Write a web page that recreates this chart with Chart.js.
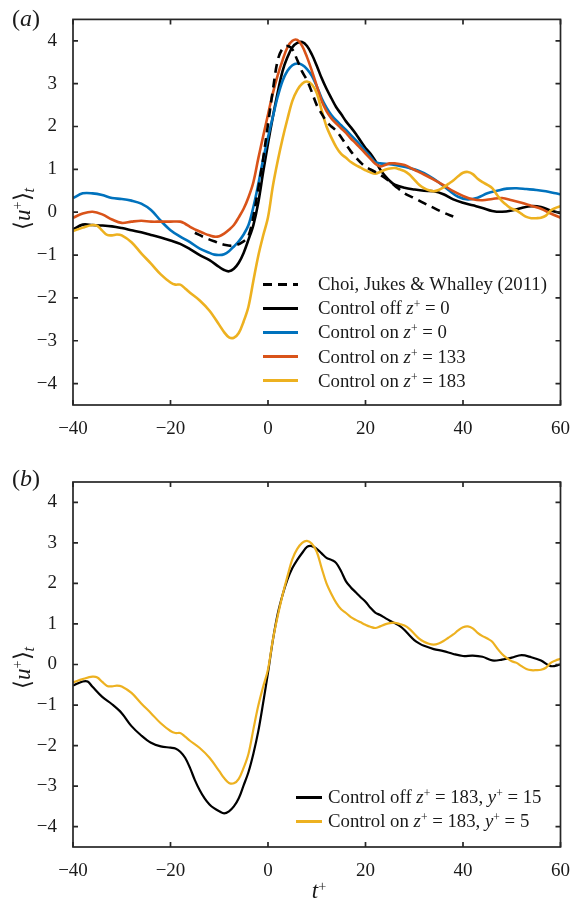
<!DOCTYPE html>
<html>
<head>
<meta charset="utf-8">
<script src="https://cdn.jsdelivr.net/npm/chart.js@4.4.1/dist/chart.umd.min.js"></script>
<style>
  body { margin: 0; background: #fff; width: 575px; height: 905px; position: relative; overflow: hidden;
         font-family: "Liberation Serif", "Times New Roman", serif; color: #1a1a1a; }
  canvas { position: absolute; left: 0; }
  .lab { position: absolute; white-space: nowrap; line-height: 1; }
  .panel { font-size: 24px; }
  .ytitle { font-size: 23px; transform: translate(-50%, -50%) rotate(-90deg); }
  .ytitle sup, .xtitle sup, .leg sup { font-size: 0.62em; vertical-align: 0.5em; line-height: 0; }
  .ytitle sub { font-size: 0.7em; vertical-align: -0.3em; line-height: 0; }
  .xtitle { font-size: 23px; transform: translateX(-50%); }
  .leg { position: absolute; font-size: 18.8px; }
  .row { display: flex; align-items: center; height: 24.2px; white-space: nowrap; }
  .swatch { height: 3px; }
</style>
</head>
<body>
<canvas id="ca" width="575" height="440" style="top:0"></canvas>
<canvas id="cb" width="575" height="465" style="top:440px"></canvas>

<div class="lab panel" style="left:12px; top:6px">(<i>a</i>)</div>
<div class="lab panel" style="left:12px; top:466px">(<i>b</i>)</div>
<div class="lab ytitle" style="left:22px; top:209px">⟨<i>u</i><sup>+</sup>⟩<sub><i>t</i></sub></div>
<div class="lab ytitle" style="left:22px; top:668px">⟨<i>u</i><sup>+</sup>⟩<sub><i>t</i></sub></div>
<div class="lab xtitle" style="left:319px; top:879px"><i>t</i><sup>+</sup></div>
<div id="legA" class="leg" style="left:263px; top:272px"></div>
<div id="legB" class="leg" style="left:296px; top:785px"></div>

<script>
// axis ticks
const tickX = [-40, -20, 0, 20, 40, 60];
const tickY = [-4, -3, -2, -1, 0, 1, 2, 3, 4];

// Choi, Jukes & Whalley (2011)
const choiT = [-15, -13, -11, -9, -7, -5, -4, -3, -2, -1, 0, 1, 2, 3, 4, 5, 6, 7, 8, 9, 10, 11, 12, 13, 14, 15, 16, 17, 18, 19, 20,
  22, 24, 26, 28, 30, 32, 34, 36, 38];
const choiU = [-0.48, -0.59, -0.68, -0.76, -0.78, -0.68, -0.55, -0.10, 0.55, 1.25, 2.05, 2.85, 3.55, 3.82, 3.88, 3.80, 3.55, 3.28,
  3.08, 2.80, 2.50, 2.30, 2.12, 2.00, 1.90, 1.75, 1.58, 1.42, 1.28, 1.16, 1.06, 0.94, 0.80, 0.62, 0.44, 0.33, 0.21, 0.10, -0.01, -0.10];

// control off z+ = 0
const offT = [-40, -38, -36, -34, -32, -30, -28, -26, -24, -22, -20, -18, -16, -14, -12, -10,
  -9, -8, -7, -6, -5, -4, -3, -2, -1, 0, 1, 2, 3, 4, 5, 6, 7, 8, 9, 10, 11, 12, 13, 14, 15, 16, 17, 18, 19, 20, 21, 22, 23, 24, 25, 26,
  28, 30, 32, 34, 36, 38, 40, 42, 44, 46, 48, 50, 52, 54, 56, 58, 60];
const offU = [-0.40, -0.29, -0.30, -0.31, -0.33, -0.37, -0.42, -0.47, -0.53, -0.59, -0.66, -0.74, -0.86, -1.00, -1.12, -1.28,
  -1.35, -1.38, -1.32, -1.18, -0.95, -0.64, -0.30, 0.22, 0.93, 1.60, 2.23, 2.80, 3.30, 3.62, 3.85, 3.95, 3.97, 3.88, 3.68, 3.42,
  3.13, 2.88, 2.66, 2.45, 2.29, 2.12, 1.98, 1.83, 1.66, 1.50, 1.37, 1.20, 1.00, 0.85, 0.73, 0.64,
  0.57, 0.53, 0.50, 0.49, 0.42, 0.30, 0.22, 0.16, 0.10, 0.03, 0.01, 0.04, 0.10, 0.14, 0.12, 0.04, -0.02];

// control on z+ = 0
const on0T = [-40, -38, -36, -34, -32, -30, -28, -26, -24, -22, -20, -18, -16, -14, -12,
  -11, -10, -9, -8, -7, -6, -5, -4, -3, -2, -1, 0, 1, 2, 3, 4, 5, 6, 7, 8, 9, 10, 11, 12, 13, 14, 15, 16, 17, 18, 19, 20, 21, 22, 23,
  25, 27, 29, 31, 33, 35, 37, 39, 41, 43, 45, 47, 49, 51, 53, 55, 57, 59, 60];
const on0U = [0.33, 0.44, 0.44, 0.40, 0.33, 0.31, 0.27, 0.20, 0.05, -0.20, -0.42, -0.57, -0.70, -0.85, -0.95,
  -0.99, -1.00, -0.98, -0.91, -0.80, -0.68, -0.52, -0.30, 0.12, 0.65, 1.23, 1.75, 2.23, 2.70, 3.07, 3.30, 3.43, 3.47, 3.44, 3.34,
  3.18, 2.94, 2.66, 2.44, 2.27, 2.14, 2.03, 1.92, 1.80, 1.68, 1.56, 1.42, 1.30, 1.17, 1.14,
  1.12, 1.08, 1.03, 0.96, 0.85, 0.70, 0.52, 0.36, 0.30, 0.34, 0.44, 0.50, 0.55, 0.56, 0.54, 0.52, 0.49, 0.44, 0.42];

// control on z+ = 133
const on133T = [-40, -38, -36, -34, -32, -30, -28, -26, -24, -22, -20, -18,
  -17, -16, -15, -14, -13, -12, -11, -10, -9, -8, -7, -6, -5, -4, -3, -2, -1, 0, 1, 2, 3, 4, 5, 6, 7, 8, 9, 10, 11, 12, 13, 14, 15,
  16, 17, 18, 19, 20, 21, 22, 23, 24, 25, 26,
  28, 30, 32, 34, 36, 38, 40, 42, 44, 46, 48, 50, 52, 54, 56, 58, 60];
const on133U = [-0.13, -0.03, 0.01, -0.05, -0.17, -0.25, -0.22, -0.20, -0.22, -0.22, -0.22, -0.22,
  -0.27, -0.34, -0.40, -0.45, -0.50, -0.54, -0.57, -0.56, -0.50, -0.41, -0.30, -0.12, 0.08, 0.35, 0.70, 1.25, 1.77, 2.28, 2.78,
  3.20, 3.55, 3.85, 4.00, 4.02, 3.88, 3.62, 3.30, 2.95, 2.60, 2.36, 2.19, 2.07, 1.96, 1.85, 1.72, 1.61, 1.49, 1.37, 1.25, 1.13,
  1.07, 1.10, 1.14, 1.14,
  1.10, 0.99, 0.88, 0.76, 0.63, 0.49, 0.38, 0.30, 0.28, 0.31, 0.33, 0.28, 0.22, 0.15, 0.08, -0.03, -0.13];

// control on z+ = 183 (y+ = 5), same record in both panels
const on183T = [-40, -38, -36, -35, -34, -33, -32, -31, -30, -28, -26, -24, -22, -20, -19, -18, -17, -16, -14, -12, -10,
  -9, -8, -7, -6, -5, -4, -3, -2, -1, 0, 1, 2, 3, 4, 5, 6, 7, 8, 9, 10, 11, 12, 13, 14, 15, 16, 17, 18, 19, 20,
  21, 22, 23, 24, 25, 26, 27, 28, 29, 30, 31, 32, 33, 34, 35, 36, 37, 38, 39, 40,
  41, 42, 43, 44, 45, 46, 47, 48, 49, 50, 51, 52, 53, 54, 55, 56, 57, 58, 59, 60];
const on183U = [-0.44, -0.36, -0.30, -0.32, -0.43, -0.53, -0.54, -0.52, -0.54, -0.70, -0.96, -1.20, -1.45, -1.64, -1.69, -1.69,
  -1.78, -1.88, -2.06, -2.30, -2.63,
  -2.80, -2.92, -2.93, -2.82, -2.55, -2.20, -1.60, -1.02, -0.55, -0.12, 0.61, 1.20, 1.72, 2.18, 2.60, 2.85, 3.00, 3.05, 2.98, 2.78,
  2.38, 2.00, 1.74, 1.52, 1.36, 1.27, 1.17, 1.10, 1.04, 0.98,
  0.93, 0.90, 0.94, 0.99, 1.02, 1.03, 1.00, 0.96, 0.88, 0.76, 0.64, 0.56, 0.51, 0.49, 0.52, 0.58, 0.66, 0.74, 0.84, 0.92,
  0.94, 0.89, 0.78, 0.70, 0.64, 0.56, 0.40, 0.26, 0.16, 0.08, 0.04, -0.04, -0.11, -0.14, -0.14, -0.13, -0.08, 0.04, 0.10, 0.14];

// control off z+ = 183, y+ = 15
const off183T = [-40, -38, -37, -36, -34, -32, -30, -28, -26, -24, -22, -20,
  -19, -18, -17, -16, -15, -14, -13, -12, -11, -10, -9, -8, -7, -6, -5, -4, -3, -2, -1, 0, 1, 2, 3, 4, 5, 6, 7, 8, 9, 10, 11, 12,
  13, 14, 15, 16, 17, 18, 19, 20, 21, 22, 23, 24, 25, 26, 27, 28, 29, 30, 31,
  32, 34, 36, 38, 40, 42, 44, 46, 48, 50, 52, 54, 56, 58, 60];
const off183U = [-0.52, -0.42, -0.42, -0.55, -0.80, -0.98, -1.20, -1.52, -1.75, -1.93, -2.02, -2.05,
  -2.07, -2.15, -2.30, -2.55, -2.85, -3.10, -3.30, -3.45, -3.55, -3.62, -3.67, -3.62, -3.50, -3.30, -2.98, -2.65, -2.20, -1.65,
  -0.95, -0.20, 0.60, 1.25, 1.72, 2.10, 2.38, 2.58, 2.75, 2.90, 2.92, 2.85, 2.74, 2.63, 2.58, 2.50, 2.30, 2.05, 1.90, 1.78, 1.66,
  1.55, 1.40, 1.28, 1.22, 1.15, 1.08, 1.02, 0.95, 0.85, 0.72, 0.60, 0.52,
  0.46, 0.38, 0.33, 0.26, 0.21, 0.22, 0.19, 0.10, 0.12, 0.17, 0.23, 0.18, 0.10, -0.04, 0.00];

const legendA = ['Choi, Jukes &amp; Whalley (2011)', 'Control off <i>z</i><sup>+</sup> = 0', 'Control on <i>z</i><sup>+</sup> = 0',
  'Control on <i>z</i><sup>+</sup> = 133', 'Control on <i>z</i><sup>+</sup> = 183'];
const legendB = ['Control off <i>z</i><sup>+</sup> = 183, <i>y</i><sup>+</sup> = 15', 'Control on <i>z</i><sup>+</sup> = 183, <i>y</i><sup>+</sup> = 5'];

const BLACK = '#000000', BLUE = '#0072BD', RED = '#D95319', YELLOW = '#EDB120';

const pts = (ts, us) => ts.map((t, i) => ({ x: t, y: us[i] }));
const minus = v => (v < 0 ? '\u2212' + Math.abs(v) : String(v));

// box + inward ticks on all four sides
const frame = {
  id: 'frame',
  afterDraw(chart) {
    const { ctx, chartArea: a, scales: { x, y } } = chart;
    ctx.save();
    ctx.strokeStyle = '#262626';
    ctx.lineWidth = 1.7;
    ctx.strokeRect(a.left, a.top, a.width, a.height);
    ctx.beginPath();
    x.ticks.forEach(t => {
      const p = x.getPixelForValue(t.value);
      ctx.moveTo(p, a.bottom); ctx.lineTo(p, a.bottom - 5);
      ctx.moveTo(p, a.top); ctx.lineTo(p, a.top + 5);
    });
    y.ticks.forEach(t => {
      const p = y.getPixelForValue(t.value);
      ctx.moveTo(a.left, p); ctx.lineTo(a.left + 5, p);
      ctx.moveTo(a.right, p); ctx.lineTo(a.right - 5, p);
    });
    ctx.stroke();
    ctx.restore();
  }
};

function scales(xh) {
  const font = { family: '"Liberation Serif", "Times New Roman", serif', size: 19 };
  return {
    x: {
      type: 'linear', min: -40, max: 60,
      afterBuildTicks: s => { s.ticks = tickX.map(v => ({ value: v })); },
      afterFit: s => { s.height = xh; },
      grid: { display: false }, border: { display: false },
      ticks: { font, color: '#1a1a1a', padding: 5, maxRotation: 0, callback: minus }
    },
    y: {
      type: 'linear', min: -4.5, max: 4.5,
      afterBuildTicks: s => { s.ticks = tickY.map(v => ({ value: v })); },
      afterFit: s => { s.width = 73; },
      grid: { display: false }, border: { display: false },
      ticks: { font, color: '#1a1a1a', padding: 8, callback: minus }
    }
  };
}

function line(data, color, w, order, dash) {
  return { data, borderColor: color, borderWidth: w, borderDash: dash || [], pointRadius: 0,
    tension: 0.35, fill: false, order };
}

const common = {
  responsive: false, animation: false,
  plugins: { legend: { display: false }, tooltip: { enabled: false } }
};

new Chart(document.getElementById('ca'), {
  type: 'line',
  data: { datasets: [
    line(pts(choiT, choiU), BLACK, 2.6, 0, [9, 6]),
    line(pts(offT, offU), BLACK, 2.6, 4),
    line(pts(on0T, on0U), BLUE, 2.6, 3),
    line(pts(on133T, on133U), RED, 2.6, 2),
    line(pts(on183T, on183U), YELLOW, 2.6, 1)
  ] },
  options: { ...common, layout: { padding: { top: 17, right: 11, left: 0, bottom: 0 } }, scales: scales(35) },
  plugins: [frame]
});

new Chart(document.getElementById('cb'), {
  type: 'line',
  data: { datasets: [
    line(pts(off183T, off183U), BLACK, 2.2, 2),
    line(pts(on183T, on183U), YELLOW, 2.2, 1)
  ] },
  options: { ...common, layout: { padding: { top: 42, right: 11, left: 0, bottom: 0 } }, scales: scales(58) },
  plugins: [frame]
});

// legends
function legend(el, labels, colors, sw, gap, dashed) {
  labels.forEach((txt, i) => {
    const row = document.createElement('div'); row.className = 'row';
    const s = document.createElement('div'); s.className = 'swatch';
    s.style.width = sw + 'px'; s.style.marginRight = gap + 'px';
    s.style.background = dashed[i]
      ? 'repeating-linear-gradient(90deg,' + colors[i] + ' 0 9px, transparent 9px 15px)'
      : colors[i];
    const t = document.createElement('span'); t.innerHTML = txt;
    row.append(s, t);
    el.append(row);
  });
}
legend(document.getElementById('legA'), legendA, [BLACK, BLACK, BLUE, RED, YELLOW], 35, 20, [true, false, false, false, false]);
legend(document.getElementById('legB'), legendB, [BLACK, YELLOW], 26, 6, [false, false]);
</script>
</body>
</html>
